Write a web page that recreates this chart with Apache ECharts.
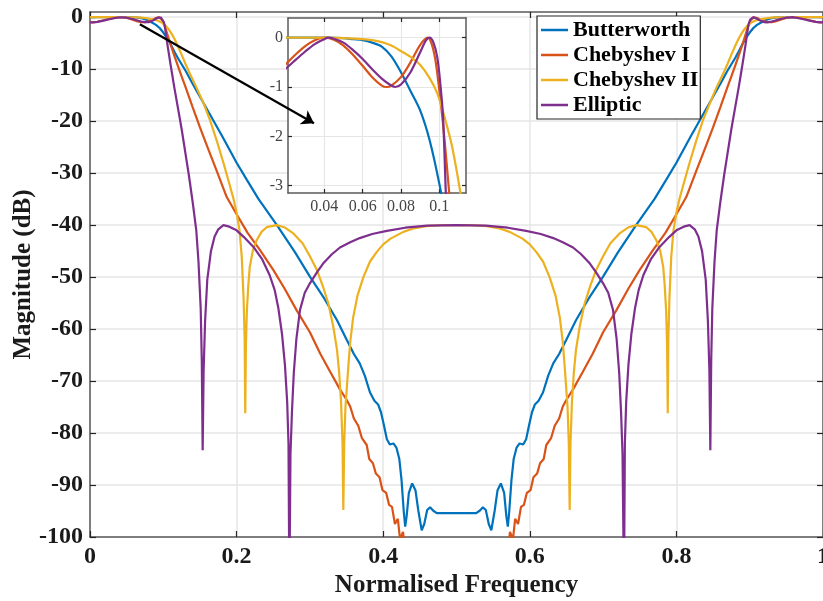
<!DOCTYPE html>
<html>
<head>
<meta charset="utf-8">
<script src="https://cdn.jsdelivr.net/npm/echarts@6/dist/echarts.min.js"></script>
<style>
html, body { margin: 0; padding: 0; background: #fff; }
#chart { width: 823px; height: 601px; }
</style>
</head>
<body>
<div id="chart"></div>
<script>
// filter names + matlab default colours
var names = ['Butterworth', 'Chebyshev I', 'Chebyshev II', 'Elliptic']
var colors = ['#0072BD', '#D95319', '#EDB120', '#7E2F8E']

// tick labels
var mainXTicks = [0, 0.2, 0.4, 0.6, 0.8, 1]
var mainYTicks = [0, -10, -20, -30, -40, -50, -60, -70, -80, -90, -100]
var insetXTicks = [0.04, 0.06, 0.08, 0.1]
var insetYTicks = [0, -1, -2, -3]

// [normalised frequency, dB]
var butterworth = [[0,0],[0.02,0],[0.04,0],[0.05,-0.01],[0.055,-0.03],[0.06,-0.05],[0.065,-0.1],[0.07,-0.18],[0.075,-0.38],[0.08,-0.7],[0.085,-1.08],[0.09,-1.47],[0.095,-2.08],[0.1,-2.95],[0.105,-4.0],[0.11,-5.2],[0.115,-6.6],[0.12,-7.9],[0.13,-10.2],[0.14,-12.8],[0.15,-15.3],[0.16,-17.8],[0.17,-20.3],[0.18,-22.8],[0.19,-25.4],[0.2,-28],[0.214,-31.3],[0.23,-35],[0.255,-40],[0.28,-45.3],[0.3,-49.9],[0.32,-54.2],[0.337,-58.3],[0.35,-62],[0.36,-64.8],[0.368,-66.6],[0.375,-69],[0.382,-72.2],[0.388,-73.8],[0.393,-74.5],[0.397,-76],[0.401,-78.5],[0.405,-81.2],[0.409,-82.2],[0.414,-82],[0.418,-82.8],[0.422,-85],[0.425,-89],[0.428,-95],[0.43,-98],[0.432,-96],[0.435,-91.5],[0.4395,-89.7],[0.444,-91],[0.448,-95],[0.4525,-98.7],[0.456,-97.5],[0.46,-94.8],[0.464,-94.3],[0.468,-94.9],[0.473,-95.4],[0.5,-95.4],
	[0.527,-95.4],[0.532,-94.9],[0.536,-94.3],[0.54,-94.8],[0.544,-97.5],[0.5475,-98.7],[0.552,-95],[0.556,-91],[0.5605,-89.7],[0.565,-91.5],[0.568,-96],[0.57,-98],[0.572,-95],[0.575,-89],[0.578,-85],[0.582,-82.8],[0.586,-82],[0.591,-82.2],[0.595,-81.2],[0.599,-78.5],[0.603,-76],[0.607,-74.5],[0.612,-73.8],[0.618,-72.2],[0.625,-69],[0.632,-66.6],[0.64,-64.8],[0.65,-62],[0.663,-58.3],[0.68,-54.2],[0.7,-49.9],[0.72,-45.3],[0.745,-40],[0.77,-35],[0.786,-31.3],[0.8,-28],[0.81,-25.4],[0.82,-22.8],[0.83,-20.3],[0.84,-17.8],[0.85,-15.3],[0.86,-12.8],[0.87,-10.2],[0.88,-7.9],[0.885,-6.6],[0.89,-5.2],[0.895,-4.0],[0.9,-2.95],[0.905,-2.08],[0.91,-1.47],[0.915,-1.08],[0.92,-0.7],[0.925,-0.38],[0.93,-0.18],[0.935,-0.1],[0.94,-0.05],[0.945,-0.03],[0.95,-0.01],[0.96,0],[0.98,0],[1,0]]

var chebyshev1 = [[0,-1],[0.005,-0.97],[0.01,-0.88],[0.015,-0.72],[0.02,-0.53],[0.025,-0.34],[0.03,-0.17],[0.035,-0.05],[0.04,0],[0.045,-0.04],[0.05,-0.16],[0.055,-0.35],[0.06,-0.57],[0.065,-0.8],[0.07,-0.97],[0.0725,-1],[0.075,-0.97],[0.08,-0.8],[0.085,-0.5],[0.09,-0.15],[0.094,0],[0.096,-0.12],[0.098,-0.45],[0.1,-1.05],[0.102,-1.75],[0.104,-2.6],[0.106,-3.5],[0.11,-5.3],[0.115,-7.4],[0.12,-9.4],[0.125,-11.4],[0.13,-13.3],[0.14,-17.3],[0.15,-21.2],[0.16,-24.9],[0.173,-29.6],[0.1865,-34.6],[0.2,-37.9],[0.215,-41.5],[0.232,-44.8],[0.25,-48.6],[0.265,-52.1],[0.282,-56.4],[0.3,-60.6],[0.314,-64.7],[0.328,-68.3],[0.341,-71.6],[0.35,-73.6],[0.355,-74.9],[0.36,-77.2],[0.366,-78.6],[0.371,-81],[0.3775,-82.3],[0.381,-85],[0.386,-85.8],[0.39,-87.8],[0.395,-88.5],[0.399,-91],[0.404,-91.5],[0.408,-93.8],[0.412,-94.2],[0.416,-97.5],[0.42,-96.5],[0.423,-100.5],[0.427,-99],[0.431,-104],[0.44,-112],[0.5,-116],
	[0.56,-112],[0.569,-104],[0.573,-99],[0.577,-100.5],[0.58,-96.5],[0.584,-97.5],[0.588,-94.2],[0.592,-93.8],[0.596,-91.5],[0.601,-91],[0.605,-88.5],[0.61,-87.8],[0.614,-85.8],[0.619,-85],[0.6225,-82.3],[0.629,-81],[0.634,-78.6],[0.64,-77.2],[0.645,-74.9],[0.65,-73.6],[0.659,-71.6],[0.672,-68.3],[0.686,-64.7],[0.7,-60.6],[0.718,-56.4],[0.735,-52.1],[0.75,-48.6],[0.768,-44.8],[0.785,-41.5],[0.8,-37.9],[0.8135,-34.6],[0.827,-29.6],[0.84,-24.9],[0.85,-21.2],[0.86,-17.3],[0.87,-13.3],[0.875,-11.4],[0.88,-9.4],[0.885,-7.4],[0.89,-5.3],[0.894,-3.5],[0.896,-2.6],[0.898,-1.75],[0.9,-1.05],[0.902,-0.45],[0.904,-0.12],[0.906,0],[0.91,-0.15],[0.915,-0.5],[0.92,-0.8],[0.925,-0.97],[0.9275,-1],[0.93,-0.97],[0.935,-0.8],[0.94,-0.57],[0.945,-0.35],[0.95,-0.16],[0.955,-0.04],[0.96,0],[0.965,-0.05],[0.97,-0.17],[0.975,-0.34],[0.98,-0.53],[0.985,-0.72],[0.99,-0.88],[0.995,-0.97],[1,-1]]

var chebyshev2 = [[0,0],[0.02,0],[0.04,0],[0.05,-0.01],[0.06,-0.03],[0.065,-0.05],[0.07,-0.09],[0.075,-0.16],[0.08,-0.27],[0.085,-0.39],[0.09,-0.55],[0.095,-0.82],[0.099,-1.13],[0.1025,-1.57],[0.1067,-2.2],[0.111,-3.12],[0.115,-4.1],[0.12,-5.6],[0.125,-7.2],[0.13,-8.9],[0.135,-10.5],[0.14,-12],[0.1455,-13.6],[0.155,-16.6],[0.1637,-19.8],[0.173,-23.8],[0.182,-28],[0.19,-32],[0.1955,-34.8],[0.2,-37.6],[0.204,-41],[0.207,-46],[0.2095,-54],[0.211,-62],[0.2118,-76.2],[0.2127,-63],[0.214,-56.5],[0.216,-51.5],[0.218,-48],[0.222,-45],[0.2274,-42.9],[0.234,-41.3],[0.241,-40.4],[0.2547,-40],[0.265,-40.4],[0.2775,-41.6],[0.29,-43.5],[0.3,-46],[0.31,-48.8],[0.318,-51.9],[0.325,-55],[0.332,-59.6],[0.337,-64],[0.34,-68.5],[0.3425,-74],[0.3445,-82],[0.3456,-94.8],[0.3468,-82],[0.3485,-75],[0.3524,-67.2],[0.355,-62.5],[0.359,-57.8],[0.365,-53.5],[0.373,-50],[0.382,-47],[0.391,-45.2],[0.4,-43.7],[0.41,-42.6],[0.4275,-41.3],[0.44,-40.7],[0.459,-40.2],[0.48,-40],[0.5,-40],
	[0.52,-40],[0.541,-40.2],[0.56,-40.7],[0.5725,-41.3],[0.59,-42.6],[0.6,-43.7],[0.609,-45.2],[0.618,-47],[0.627,-50],[0.635,-53.5],[0.641,-57.8],[0.645,-62.5],[0.6476,-67.2],[0.6515,-75],[0.6532,-82],[0.6544,-94.8],[0.6555,-82],[0.6575,-74],[0.66,-68.5],[0.663,-64],[0.668,-59.6],[0.675,-55],[0.682,-51.9],[0.69,-48.8],[0.7,-46],[0.71,-43.5],[0.7225,-41.6],[0.735,-40.4],[0.7453,-40],[0.759,-40.4],[0.766,-41.3],[0.7726,-42.9],[0.778,-45],[0.782,-48],[0.784,-51.5],[0.786,-56.5],[0.7873,-63],[0.7882,-76.2],[0.789,-62],[0.7905,-54],[0.793,-46],[0.796,-41],[0.8,-37.6],[0.8045,-34.8],[0.81,-32],[0.818,-28],[0.827,-23.8],[0.8363,-19.8],[0.8455,-16.6],[0.8545,-13.6],[0.86,-12],[0.865,-10.5],[0.87,-8.9],[0.875,-7.2],[0.88,-5.6],[0.885,-4.1],[0.889,-3.12],[0.8933,-2.2],[0.8975,-1.57],[0.901,-1.13],[0.905,-0.82],[0.91,-0.55],[0.915,-0.39],[0.92,-0.27],[0.925,-0.16],[0.93,-0.09],[0.935,-0.05],[0.94,-0.03],[0.95,-0.01],[0.96,0],[0.98,0],[1,0]]

var elliptic = [[0,-1],[0.005,-0.98],[0.01,-0.9],[0.015,-0.77],[0.02,-0.62],[0.025,-0.45],[0.03,-0.28],[0.035,-0.13],[0.04,-0.03],[0.042,0],[0.045,-0.02],[0.05,-0.1],[0.055,-0.25],[0.06,-0.43],[0.065,-0.64],[0.07,-0.83],[0.0745,-0.96],[0.077,-1],[0.08,-0.95],[0.085,-0.7],[0.09,-0.3],[0.093,-0.06],[0.095,0],[0.097,-0.1],[0.099,-0.4],[0.1005,-0.9],[0.102,-1.6],[0.1035,-3.2],[0.106,-5.6],[0.11,-9.2],[0.115,-13.5],[0.12,-17.5],[0.125,-21.5],[0.13,-26],[0.135,-30.5],[0.14,-35.5],[0.145,-41],[0.148,-47],[0.151,-56],[0.1525,-66],[0.1537,-83.3],[0.155,-68],[0.157,-58.5],[0.16,-50.5],[0.165,-45],[0.17,-42.2],[0.175,-40.8],[0.182,-40],[0.19,-40.3],[0.2,-41],[0.21,-42.3],[0.223,-44.2],[0.235,-46.6],[0.245,-49.6],[0.252,-52.5],[0.257,-56],[0.262,-61],[0.266,-67],[0.269,-74],[0.2708,-82],[0.272,-110],[0.2735,-84],[0.2755,-76],[0.278,-68.5],[0.2815,-62],[0.2865,-56.3],[0.293,-53],[0.3,-51.2],[0.31,-49],[0.318,-47.4],[0.33,-45.6],[0.341,-44.3],[0.355,-43.3],[0.368,-42.5],[0.385,-41.7],[0.405,-41.1],[0.43,-40.5],[0.46,-40.1],[0.5,-40],
	[0.54,-40.1],[0.57,-40.5],[0.595,-41.1],[0.615,-41.7],[0.632,-42.5],[0.645,-43.3],[0.659,-44.3],[0.67,-45.6],[0.682,-47.4],[0.69,-49],[0.7,-51.2],[0.707,-53],[0.7135,-56.3],[0.7185,-62],[0.722,-68.5],[0.7245,-76],[0.7265,-84],[0.7285,-110],[0.7297,-82],[0.7315,-74],[0.7345,-67],[0.7385,-61],[0.7435,-56],[0.7485,-52.5],[0.755,-49.6],[0.765,-46.6],[0.777,-44.2],[0.79,-42.3],[0.8,-41],[0.81,-40.3],[0.818,-40],[0.825,-40.8],[0.83,-42.2],[0.835,-45],[0.84,-50.5],[0.843,-58.5],[0.845,-68],[0.8463,-83.3],[0.8475,-66],[0.849,-56],[0.852,-47],[0.855,-41],[0.86,-35.5],[0.865,-30.5],[0.87,-26],[0.875,-21.5],[0.88,-17.5],[0.885,-13.5],[0.89,-9.2],[0.894,-5.6],[0.8965,-3.2],[0.898,-1.6],[0.8995,-0.9],[0.901,-0.4],[0.903,-0.1],[0.905,0],[0.907,-0.06],[0.91,-0.3],[0.915,-0.7],[0.92,-0.95],[0.923,-1],[0.9255,-0.96],[0.93,-0.83],[0.935,-0.64],[0.94,-0.43],[0.945,-0.25],[0.95,-0.1],[0.955,-0.02],[0.958,0],[0.96,-0.03],[0.965,-0.13],[0.97,-0.28],[0.975,-0.45],[0.98,-0.62],[0.985,-0.77],[0.99,-0.9],[0.995,-0.98],[1,-1]]

// arrow pointing from the passband to the zoomed inset
var arrowFrom = [0.068, -1.35]
var arrowTo = [0.3056, -20.4]

var allData = [butterworth, chebyshev1, chebyshev2, elliptic]

var font = 'Liberation Serif'
var axisGrey = '#5a5a5a'
var gridGrey = '#e6e6e6'
var textCol = '#1a1a1a'

// plain box axis: only line + inward ticks, no labels (matlab "box on")
function boxAxis(gridIndex, position, min, max, ticks, z) {
	return {
		gridIndex: gridIndex, type: 'value', position: position, min: min, max: max, z: z || 0,
		axisLine: { onZero: false, lineStyle: { color: axisGrey, width: 1.5 } },
		axisTick: { inside: true, length: gridIndex ? 4 : 6, customValues: ticks, lineStyle: { color: '#262626', width: 1.2 } },
		axisLabel: { show: false },
		splitLine: { show: false }
	}
}

var mainLabel = { fontFamily: font, fontWeight: 'bold', fontSize: 24, color: textCol }
var insetLabel = { fontFamily: font, fontSize: 16, color: '#444' }

var series = []
names.forEach(function (n, i) {
	var s = {
		type: 'line', name: n, data: allData[i], xAxisIndex: 0, yAxisIndex: 0,
		symbol: 'none', clip: true, z: 2, color: colors[i],
		lineStyle: { width: 2.2, color: colors[i] },
		emphasis: { disabled: true }
	}
	if (i === 0) {
		s.markLine = {
			silent: true, symbol: ['none', 'arrow'], symbolSize: 12, z: 10,
			label: { show: false },
			lineStyle: { color: '#000', width: 2.2, type: 'solid' },
			emphasis: { disabled: true },
			data: [[{ coord: arrowFrom }, { coord: arrowTo }]]
		}
	}
	series.push(s)
})
// the zoomed inset uses the same curves
names.forEach(function (n, i) {
	series.push({
		type: 'line', name: n, data: allData[i], xAxisIndex: 2, yAxisIndex: 2,
		symbol: 'none', clip: true, z: 4, smooth: 0.3, color: colors[i],
		lineStyle: { width: 2.2, color: colors[i] },
		emphasis: { disabled: true }
	})
})

var option = {
	animation: false,
	backgroundColor: '#fff',
	grid: [
		{ left: 90, right: 0, top: 12, bottom: 64, containLabel: false, outerBoundsMode: 'none' },
		{ left: 288, top: 18, width: 178, height: 175, show: true, backgroundColor: '#fff', borderWidth: 0, z: 3, outerBoundsMode: 'none' }
	],
	legend: {
		orient: 'vertical', left: 537, top: 16, data: names, icon: 'rect',
		backgroundColor: '#fff', borderColor: '#262626', borderWidth: 1.2,
		padding: [3, 2, 3, 4], itemGap: 3, itemWidth: 27, itemHeight: 2.5,
		textStyle: { fontFamily: font, fontWeight: 'bold', fontSize: 22, color: '#000', lineHeight: 22 },
		selectedMode: false
	},
	xAxis: [
		{
			gridIndex: 0, type: 'value', position: 'bottom', min: 0, max: 1, interval: 0.2,
			name: 'Normalised Frequency', nameLocation: 'middle', nameGap: 36, nameMoveOverlap: false,
			nameTextStyle: { fontFamily: font, fontWeight: 'bold', fontSize: 25, color: textCol },
			axisLine: { onZero: false, lineStyle: { color: axisGrey, width: 1.5 } },
			axisTick: { inside: true, length: 6, lineStyle: { color: '#262626', width: 1.2 } },
			axisLabel: Object.assign({ margin: 8, customValues: mainXTicks }, mainLabel),
			splitLine: { show: true, lineStyle: { color: gridGrey, width: 1.5 } }
		},
		boxAxis(0, 'top', 0, 1, mainXTicks),
		{
			gridIndex: 1, type: 'value', position: 'bottom', min: 0.021, max: 0.114, z: 4,
			axisLine: { onZero: false, lineStyle: { color: axisGrey, width: 1.5 } },
			axisTick: { inside: true, length: 4, customValues: insetXTicks, lineStyle: { color: '#262626', width: 1.2 } },
			axisLabel: Object.assign({ margin: 6, customValues: insetXTicks }, insetLabel),
			splitLine: { show: true, lineStyle: { color: gridGrey, width: 1.2 } }
		},
		boxAxis(1, 'top', 0.021, 0.114, insetXTicks, 4)
	],
	yAxis: [
		{
			gridIndex: 0, type: 'value', position: 'left', min: -100, max: 1,
			name: 'Magnitude (dB)', nameLocation: 'middle', nameGap: 54, nameMoveOverlap: false,
			nameTextStyle: { fontFamily: font, fontWeight: 'bold', fontSize: 25, color: textCol },
			axisLine: { onZero: false, lineStyle: { color: axisGrey, width: 1.5 } },
			axisTick: { inside: true, length: 6, customValues: mainYTicks, lineStyle: { color: '#262626', width: 1.2 } },
			axisLabel: Object.assign({ margin: 7, customValues: mainYTicks }, mainLabel),
			splitLine: { show: true, lineStyle: { color: gridGrey, width: 1.5 } }
		},
		boxAxis(0, 'right', -100, 1, mainYTicks),
		{
			gridIndex: 1, type: 'value', position: 'left', min: -3.15, max: 0.4, z: 4,
			axisLine: { onZero: false, lineStyle: { color: axisGrey, width: 1.5 } },
			axisTick: { inside: true, length: 4, customValues: insetYTicks, lineStyle: { color: '#262626', width: 1.2 } },
			axisLabel: Object.assign({ margin: 5, customValues: insetYTicks }, insetLabel),
			splitLine: { show: true, lineStyle: { color: gridGrey, width: 1.2 } }
		},
		boxAxis(1, 'right', -3.15, 0.4, insetYTicks, 4)
	],
	series: series
}

var chart = echarts.init(document.getElementById('chart'))
chart.setOption(option)
</script>
</body>
</html>
